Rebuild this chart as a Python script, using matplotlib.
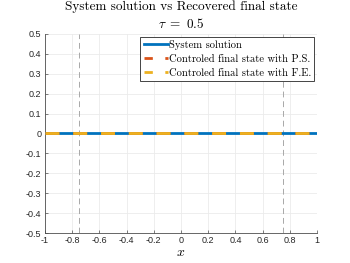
import matplotlib
matplotlib.use("Agg")
import matplotlib.pyplot as plt

x = [-1.0, -0.5, 0.0, 0.5, 1.0]
system_solution = [0, 0, 0, 0, 0]
final_ps = [0, 0, 0, 0, 0]
final_fe = [0, 0, 0, 0, 0]
vlines_x = [-0.75, 0.75]
xticks = [-1, -0.8, -0.6, -0.4, -0.2, 0, 0.2, 0.4, 0.6, 0.8, 1]
yticks = [-0.5, -0.4, -0.3, -0.2, -0.1, 0, 0.1, 0.2, 0.3, 0.4, 0.5]

plt.rcParams['mathtext.fontset'] = 'cm'
plt.rcParams['axes.unicode_minus'] = False
serif = ['cmr10', 'DejaVu Serif']

fig = plt.figure(figsize=(3.5, 2.63), dpi=100)
ax = fig.add_axes([0.1286, 0.114, 0.7771, 0.757])

for v in vlines_x:
    ax.axvline(v, color='#a8a8a8', lw=0.7, ls=(0, (6, 4)), zorder=1)

ax.plot(x, system_solution, color='#0072BD', lw=2, label='System solution', zorder=3)
ax.plot(x, final_ps, color='#D95319', lw=2, dashes=(5, 5), label='Controled final state with P.S.', zorder=4)
ax.plot(x, final_fe, color='#EDB120', lw=2, dashes=(5, 5), label='Controled final state with F.E.', zorder=5)

ax.set_xlim(-1, 1)
ax.set_ylim(-0.5, 0.5)
ax.set_xticks(xticks)
ax.set_yticks(yticks)
ax.set_xticklabels([f"{t:g}" for t in xticks])
ax.set_yticklabels([f"{t:g}" for t in yticks])
ax.grid(True, color='#ebebeb', lw=0.6)
ax.set_axisbelow(True)
for s in ['top', 'right']:
    ax.spines[s].set_visible(False)
for s in ['left', 'bottom']:
    ax.spines[s].set_color('#4d4d4d')
    ax.spines[s].set_linewidth(0.6)
ax.tick_params(direction='in', length=2.5, width=0.5, labelsize=6.5, colors='#4d4d4d', labelcolor='#262626', pad=2.5)
for lbl in ax.get_xticklabels() + ax.get_yticklabels():
    lbl.set_family(['Liberation Sans', 'DejaVu Sans'])

ax.set_title('System solution vs Recovered final state\n' + r'$\tau\ =\ 0.5$', fontsize=9.5, family=serif, pad=4, linespacing=1.4)
ax.set_xlabel(r'$x$', fontsize=10, labelpad=0)

leg = ax.legend(loc='upper right', prop={'family': serif, 'size': 7.6}, frameon=True, fancybox=False,
                edgecolor='#262626', framealpha=1, handlelength=2.3, handletextpad=0.1,
                borderpad=0.3, labelspacing=0.42, borderaxespad=0.25)
leg.get_frame().set_linewidth(0.6)
for h in leg.get_lines()[1:]:
    h.set_dashes((3, 4.5))

fig.savefig('out.png', dpi=100)
